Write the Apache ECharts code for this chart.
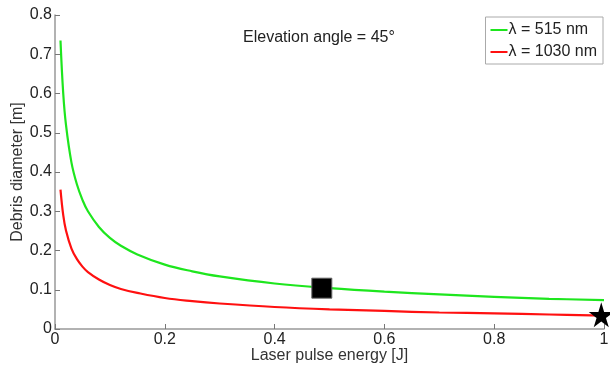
<!DOCTYPE html>
<html>
<head>
<meta charset="utf-8">
<script src="https://cdn.jsdelivr.net/npm/echarts@6/dist/echarts.min.js"></script>
<style>
  html, body { margin: 0; padding: 0; background: #fff; }
  #chart { width: 610px; height: 367px; }
</style>
</head>
<body>
<div id="chart"></div>
<script>
// pulse energy [J] where the curves were read
const energy = [0.01, 0.015, 0.02, 0.03, 0.04, 0.05, 0.06, 0.08, 0.1, 0.12, 0.15, 0.2, 0.25, 0.3, 0.4, 0.5, 0.6, 0.7, 0.8, 0.9, 1.0]
// debris diameter [m]
const green515 = [0.735, 0.600, 0.520, 0.424, 0.368, 0.329, 0.300, 0.260, 0.232, 0.212, 0.190, 0.164, 0.147, 0.134, 0.116, 0.104, 0.095, 0.088, 0.082, 0.077, 0.0735]
const red1030 = [0.355, 0.290, 0.251, 0.205, 0.178, 0.159, 0.145, 0.126, 0.112, 0.102, 0.092, 0.079, 0.071, 0.065, 0.056, 0.050, 0.046, 0.042, 0.040, 0.037, 0.034]
const squarePt = [[0.486, 0.104]]
const starPt = [[0.995, 0.036]]
const names = ['λ = 515 nm', 'λ = 1030 nm']

const pairs = (xs, ys) => xs.map((x, i) => [x, ys[i]])
const font = 'Liberation Sans, Arial, sans-serif'
const starPath = 'path://M50,0 L61,35 L98,35 L68,57 L79,91 L50,70 L21,91 L32,57 L2,35 L39,35 Z'

const chart = echarts.init(document.getElementById('chart'), null, { renderer: 'canvas' })

chart.setOption({
  animation: false,
  grid: { left: 55, right: 6, top: 15, bottom: 38, outerBoundsMode: 'none' },
  legend: {
    data: names,
    orient: 'vertical',
    right: 7,
    top: 17,
    padding: [5, 6, 4, 4],
    itemGap: 6,
    itemWidth: 17,
    itemHeight: 2,
    borderColor: '#aaa',
    borderWidth: 1,
    backgroundColor: '#fff',
    textStyle: { fontFamily: font, fontSize: 16, color: '#222', padding: [0, 0, 0, -4] }
  },
  graphic: [{
    type: 'text',
    left: 243,
    top: 30,
    style: { text: 'Elevation angle = 45°', font: '16px ' + font, fill: '#222' }
  }],
  xAxis: {
    type: 'value',
    min: 0,
    max: 1,
    interval: 0.2,
    name: 'Laser pulse energy [J]',
    nameLocation: 'middle',
    nameGap: 19,
    nameMoveOverlap: false,
    nameTextStyle: { fontFamily: font, fontSize: 16, color: '#333' },
    axisLine: { lineStyle: { color: '#999', width: 1.5 } },
    axisTick: { inside: true, length: 5, lineStyle: { color: '#777' } },
    axisLabel: { fontFamily: font, fontSize: 16, color: '#222', margin: 3, formatter: v => String(+v.toFixed(1)) },
    splitLine: { show: false }
  },
  yAxis: {
    type: 'value',
    min: 0,
    max: 0.8,
    interval: 0.1,
    name: 'Debris diameter [m]',
    nameLocation: 'middle',
    nameGap: 29,
    nameMoveOverlap: false,
    nameTextStyle: { fontFamily: font, fontSize: 16, color: '#333' },
    axisLine: { show: true, lineStyle: { color: '#999', width: 1.5 } },
    axisTick: { show: true, inside: true, length: 5, lineStyle: { color: '#777' } },
    axisLabel: { fontFamily: font, fontSize: 16, color: '#222', margin: 3, formatter: v => String(+v.toFixed(1)) },
    splitLine: { show: false }
  },
  series: [
    {
      name: names[0],
      type: 'line',
      smooth: 0.4,
      symbol: 'none',
      data: pairs(energy, green515),
      lineStyle: { color: '#1ee61e', width: 2.2 },
      itemStyle: { color: '#1ee61e' }
    },
    {
      name: names[1],
      type: 'line',
      smooth: 0.4,
      symbol: 'none',
      data: pairs(energy, red1030),
      lineStyle: { color: '#ff1010', width: 2.2 },
      itemStyle: { color: '#ff1010' }
    },
    {
      type: 'scatter',
      data: squarePt,
      symbol: 'rect',
      symbolSize: 20,
      itemStyle: { color: '#000', borderColor: '#666', borderWidth: 1, opacity: 1 },
      z: 5
    },
    {
      type: 'scatter',
      data: starPt,
      symbol: starPath,
      symbolSize: 25,
      itemStyle: { color: '#000', opacity: 1 },
      z: 5
    }
  ]
})
</script>
</body>
</html>
